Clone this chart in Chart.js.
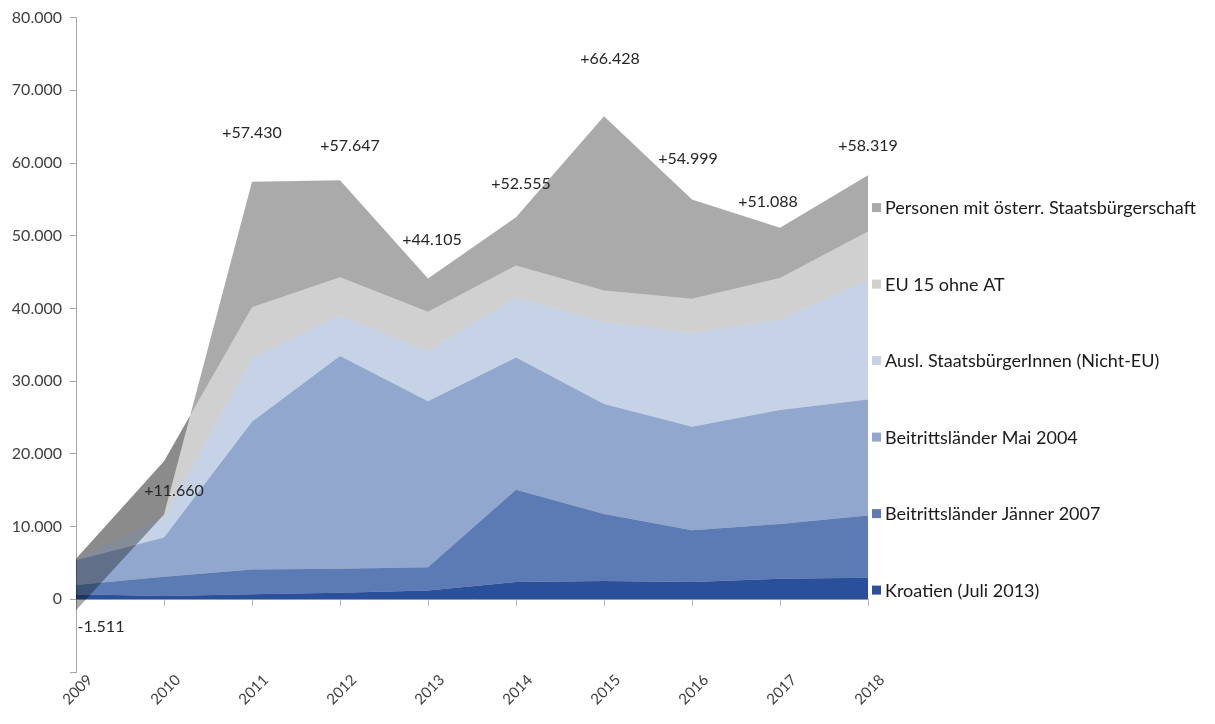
<!doctype html>
<html lang="de">
  <head>
    <meta charset="utf-8">
    <title>Zuwanderung nach Staatsbürgerschaft 2009–2018</title>
    <style>
      * {
        margin: 0;
        padding: 0;
      }
      body {
        background: #fff;
      }
      .chartBox {
        width: 1215px;
        height: 724px;
      }
    </style>
  </head>
  <body>
    <div class="chartBox">
      <canvas id="myChart"></canvas>
    </div>
    <script src="https://cdn.jsdelivr.net/npm/chart.js/dist/chart.umd.min.js"></script>
    <script>
    // setup
    const years = ['2009', '2010', '2011', '2012', '2013', '2014', '2015', '2016', '2017', '2018'];

    // yearly change per group (stacked, negative values pull the total down)
    const kroatien   = [700, 450, 680, 910, 1200, 2370, 2510, 2370, 2830, 2970];
    const jaenner07  = [1260, 2650, 3430, 3290, 3200, 12700, 9230, 7130, 7540, 8540];
    const mai04      = [3400, 5400, 20320, 29270, 22850, 18170, 15110, 14240, 15660, 15980];
    const nichtEU    = [110, 2700, 8670, 5570, 6850, 8310, 11280, 12880, 12420, 16440];
    const eu15       = [100, 7800, 7080, 5250, 5460, 4350, 4340, 4700, 5750, 6660];
    const oesterr    = [-7081, -7340, 17250, 13357, 4545, 6655, 23958, 13679, 6888, 7729];

    const seriesNames = [
      'Kroatien (Juli 2013)',
      'Beitrittsländer Jänner 2007',
      'Beitrittsländer Mai 2004',
      'Ausl. StaatsbürgerInnen (Nicht-EU)',
      'EU 15 ohne AT',
      'Personen mit österr. Staatsbürgerschaft'
    ];
    const seriesColors = ['#2a4f9b', '#5c7bb4', '#92a7cd', '#c6d2e6', '#d0d0d0', '#aaaaaa'];
    const seriesValues = [kroatien, jaenner07, mai04, nichtEU, eu15, oesterr];

    const fmt = (v) => Math.abs(v).toString().replace(/\B(?=(\d{3})+(?!\d))/g, '.');

    const data = {
      labels: years,
      datasets: seriesValues.map((values, i) => ({
        label: seriesNames[i],
        data: values,
        backgroundColor: seriesColors[i],
        borderColor: seriesColors[i],
        borderWidth: 0,
        pointRadius: 0,
        tension: 0,
        fill: i === 0 ? 'origin' : '-1'
      }))
    };

    // overlapping areas (negative years) darken each other like in the original sheet
    const multiplyAreas = {
      id: 'multiplyAreas',
      beforeDatasetsDraw(chart) {
        chart.ctx.save();
        chart.ctx.globalCompositeOperation = 'multiply';
      },
      afterDatasetsDraw(chart) {
        chart.ctx.restore();
      }
    };

    // total change per year, written above the stack
    const labelNudge = [[25, 17], [10, -24], [0, -49], [10, -34], [4, -39], [5, -33], [6, -57], [-4, -41], [-12, -26], [0, -29]];
    const totalLabels = {
      id: 'totalLabels',
      afterDraw(chart) {
        const { ctx, scales: { x, y } } = chart;
        ctx.save();
        ctx.font = '16px Lato';
        ctx.fillStyle = '#262626';
        ctx.textAlign = 'center';
        ctx.textBaseline = 'middle';
        years.forEach((yr, i) => {
          const total = seriesValues.reduce((s, arr) => s + arr[i], 0);
          const text = (total < 0 ? '-' : '+') + fmt(total);
          ctx.fillText(text, x.getPixelForValue(i) + labelNudge[i][0], y.getPixelForValue(total) + labelNudge[i][1]);
        });
        ctx.restore();
      }
    };

    // legend on the right, top entry = top layer
    const sideLegend = {
      id: 'sideLegend',
      afterDraw(chart) {
        const { ctx, chartArea } = chart;
        const sets = chart.data.datasets.slice().reverse();
        ctx.save();
        ctx.font = '18px Lato';
        ctx.textBaseline = 'middle';
        sets.forEach((ds, i) => {
          const yy = chartArea.top + 190 + i * 76.5;
          ctx.fillStyle = ds.backgroundColor;
          ctx.fillRect(chartArea.right + 4, yy - 4.5, 9, 9);
          ctx.fillStyle = '#1a1a1a';
          ctx.fillText(ds.label, chartArea.right + 17, yy + 1);
        });
        ctx.restore();
      }
    };

    // config
    const config = {
      type: 'line',
      data,
      options: {
        responsive: true,
        maintainAspectRatio: false,
        animation: false,
        layout: {
          padding: { top: 17, right: 347, left: 0, bottom: 0 }
        },
        scales: {
          x: {
            type: 'category',
            offset: false,
            grid: { display: false },
            border: { display: false },
            ticks: {
              autoSkip: false,
              minRotation: 45,
              maxRotation: 45,
              padding: -9,
              labelOffset: 14,
              color: '#404040',
              font: { family: 'Lato', size: 15 }
            },
            afterFit(scale) { scale.height = 52; }
          },
          x0: {
            type: 'category',
            position: { y: 0 },
            offset: false,
            grid: { drawOnChartArea: false, drawTicks: true, tickLength: 6, color: '#b4bccb' },
            border: { color: '#b4bccb' },
            ticks: { display: false }
          },
          y: {
            stacked: 'single',
            min: -10000,
            max: 80000,
            grid: { drawOnChartArea: false, tickLength: 6, color: '#a6a6a6' },
            border: { color: '#a6a6a6' },
            ticks: {
              stepSize: 10000,
              padding: 8,
              color: '#404040',
              font: { family: 'Lato', size: 16 },
              callback: (v) => v < 0 ? '' : fmt(v)
            },
            afterFit(scale) { scale.width = 76; }
          }
        },
        plugins: {
          legend: { display: false },
          tooltip: { enabled: false }
        }
      },
      plugins: [multiplyAreas, totalLabels, sideLegend]
    };

    // render init block
    const myChart = new Chart(
      document.getElementById('myChart'),
      config
    );
    </script>
  </body>
</html>
